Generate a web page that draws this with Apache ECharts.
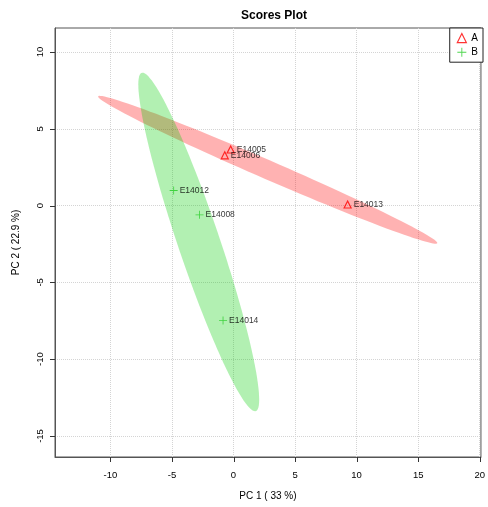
<!DOCTYPE html>
<html>
<head>
<meta charset="utf-8">
<script src="https://cdn.jsdelivr.net/npm/echarts@6/dist/echarts.min.js"></script>
<style>
    html, body { margin: 0; padding: 0; background: #fff; }
    #chart_scores { width: 488px; height: 507px; }
</style>
</head>
<body>
<div id="chart_scores"></div>
<script>
// sample scores
var groupANames = ['E14005', 'E14006', 'E14013'];
var groupAPc1 = [-0.23, -0.71, 9.27];
var groupAPc2 = [3.65, 3.27, 0.07];

var groupBNames = ['E14012', 'E14008', 'E14014'];
var groupBPc1 = [-4.86, -2.76, -0.85];
var groupBPc2 = [0.98, -0.60, -7.49];

var xTicks = [-10, -5, 0, 5, 10, 15, 20];
var yTicks = [-15, -10, -5, 0, 5, 10];
var xRange = [-14.5, 20.1];
var yRange = [-16.37, 11.56];

var fontName = '"Liberation Sans", Arial, sans-serif';
var colorA = '#FF0000';
var colorB = '#22CC22';
var plusIcon = 'path://M0,4.5h10v1h-10z M4.5,0h1v10h-1z';

// 95% confidence ellipse from the group's covariance
function confidenceEllipse(xs, ys) {
    var n = xs.length, mx = 0, my = 0, sxx = 0, syy = 0, sxy = 0, i;
    for (i = 0; i < n; i++) { mx += xs[i]; my += ys[i]; }
    mx /= n; my /= n;
    for (i = 0; i < n; i++) {
        sxx += (xs[i] - mx) * (xs[i] - mx);
        syy += (ys[i] - my) * (ys[i] - my);
        sxy += (xs[i] - mx) * (ys[i] - my);
    }
    sxx /= (n - 1); syy /= (n - 1); sxy /= (n - 1);
    var tr = sxx + syy, det = sxx * syy - sxy * sxy;
    var d = Math.sqrt(Math.max(tr * tr / 4 - det, 0));
    var l1 = tr / 2 + d, l2 = Math.max(tr / 2 - d, 0);
    var ang = Math.atan2(l1 - sxx, sxy);
    var r = Math.sqrt(5.991);
    var pts = [];
    for (i = 0; i < 120; i++) {
        var t = 2 * Math.PI * i / 120;
        var a = r * Math.sqrt(l1) * Math.cos(t);
        var b = r * Math.sqrt(l2) * Math.sin(t);
        pts.push([mx + a * Math.cos(ang) - b * Math.sin(ang),
                  my + a * Math.sin(ang) + b * Math.cos(ang)]);
    }
    return { center: [mx, my], points: pts };
}

function ellipseSeries(name, xs, ys, fill) {
    var ell = confidenceEllipse(xs, ys);
    return {
        name: name,
        type: 'custom',
        silent: true,
        clip: true,
        z: 1,
        data: [ell.center],
        renderItem: function (params, api) {
            return {
                type: 'polygon',
                shape: { points: ell.points.map(function (p) { return api.coord(p); }) },
                style: { fill: fill }
            };
        }
    };
}

// outside tick marks, R style
function tickSeries() {
    return {
        name: 'ticks',
        type: 'custom',
        silent: true,
        clip: false,
        z: 5,
        data: [[xRange[0], yRange[0]]],
        renderItem: function (params, api) {
            var children = [];
            xTicks.forEach(function (v) {
                var p = api.coord([v, yRange[0]]);
                var x = Math.round(p[0]) + 0.5;
                children.push({ type: 'line', shape: { x1: x, y1: p[1], x2: x, y2: p[1] + 5 }, style: { stroke: '#333', lineWidth: 1 } });
            });
            yTicks.forEach(function (v) {
                var p = api.coord([xRange[0], v]);
                var y = Math.round(p[1]) + 0.5;
                children.push({ type: 'line', shape: { x1: p[0] - 5, y1: y, x2: p[0], y2: y }, style: { stroke: '#333', lineWidth: 1 } });
            });
            return { type: 'group', children: children };
        }
    };
}

function pointData(names, xs, ys) {
    var out = [];
    for (var i = 0; i < names.length; i++) {
        out.push({ value: [xs[i], ys[i]], name: names[i] });
    }
    return out;
}

var pointLabel = {
    show: true,
    position: 'right',
    distance: 2,
    formatter: '{b}',
    fontSize: 8.5,
    fontFamily: fontName,
    color: '#000'
};

var chartDom = document.getElementById('chart_scores');
var chartInstance = echarts.init(chartDom);

var chartOption = {
    animation: false,
    backgroundColor: '#fff',
    title: {
        text: 'Scores Plot',
        left: 269,
        textAlign: 'center',
        top: 5,
        textStyle: { fontSize: 12, fontWeight: 'bold', color: '#000', fontFamily: fontName }
    },
    legend: {
        orient: 'vertical',
        right: 5,
        top: 28,
        padding: [5, 5, 5, 7],
        itemGap: 4,
        itemWidth: 9,
        itemHeight: 9,
        borderColor: '#222',
        borderWidth: 1,
        borderRadius: 0,
        backgroundColor: '#fff',
        textStyle: { fontSize: 10, color: '#000', fontFamily: fontName },
        data: [
            { name: 'A', icon: 'triangle', itemStyle: { color: 'rgba(0,0,0,0)', borderColor: colorA, borderWidth: 1.2 } },
            { name: 'B', icon: plusIcon, itemStyle: { color: colorB, borderWidth: 0 } }
        ]
    },
    grid: {
        left: 55,
        right: 5,
        top: 28,
        bottom: 50,
        show: true,
        borderColor: '#555',
        borderWidth: 1,
        backgroundColor: 'transparent'
    },
    xAxis: {
        type: 'value',
        min: xRange[0],
        max: xRange[1],
        name: 'PC 1 ( 33 %)',
        nameLocation: 'middle',
        nameGap: 34,
        nameTextStyle: { fontSize: 10, color: '#000', fontFamily: fontName },
        axisLine: { show: true, onZero: false, lineStyle: { color: '#555', width: 1 } },
        axisTick: { show: true, length: 5, customValues: xTicks, lineStyle: { color: 'rgba(0,0,0,0)' } },
        axisLabel: { customValues: xTicks, margin: 13, fontSize: 9.5, color: '#000', fontFamily: fontName },
        splitLine: { show: true, lineStyle: { type: 'dotted', color: '#d4d4d4' } }
    },
    yAxis: {
        type: 'value',
        min: yRange[0],
        max: yRange[1],
        name: 'PC 2 ( 22.9 %)',
        nameLocation: 'middle',
        nameGap: 34,
        nameTextStyle: { fontSize: 10, color: '#000', fontFamily: fontName },
        axisLine: { show: true, onZero: false, lineStyle: { color: '#555', width: 1 } },
        axisTick: { show: true, length: 5, customValues: yTicks, lineStyle: { color: 'rgba(0,0,0,0)' } },
        axisLabel: { customValues: yTicks, rotate: 90, margin: 10, fontSize: 9.5, color: '#000', fontFamily: fontName },
        splitLine: { show: true, lineStyle: { type: 'dotted', color: '#d4d4d4' } }
    },
    series: [
        ellipseSeries('A ellipse', groupAPc1, groupAPc2, 'rgba(255,0,0,0.3)'),
        ellipseSeries('B ellipse', groupBPc1, groupBPc2, 'rgba(0,205,0,0.3)'),
        tickSeries(),
        {
            name: 'A',
            type: 'scatter',
            z: 3,
            symbol: 'triangle',
            symbolSize: 7,
            itemStyle: { color: 'rgba(0,0,0,0)', borderColor: colorA, borderWidth: 1.2 },
            label: pointLabel,
            data: pointData(groupANames, groupAPc1, groupAPc2)
        },
        {
            name: 'B',
            type: 'scatter',
            z: 3,
            symbol: plusIcon,
            symbolSize: 8,
            itemStyle: { color: colorB },
            label: pointLabel,
            data: pointData(groupBNames, groupBPc1, groupBPc2)
        }
    ]
};

chartInstance.setOption(chartOption);
</script>
</body>
</html>
